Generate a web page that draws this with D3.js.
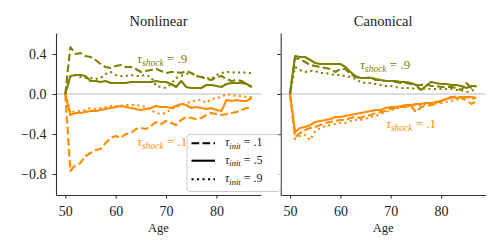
<!DOCTYPE html>
<html>
<head>
<meta charset="utf-8">
<script src="https://cdn.jsdelivr.net/npm/d3@7"></script>
<style>
  body { margin: 0; background: #fff; }
  text { font-family: "Liberation Serif", "DejaVu Serif", serif; fill: #222; }
</style>
</head>
<body>
<svg width="500" height="250"></svg>
<script>
// ages on the x axis
var ages = [50,51,52,53,54,55,56,57,58,59,60,61,62,63,64,65,66,67,68,69,
            70,71,72,73,74,75,76,77,78,79,80,81,82,83,84,85,86,87];

// Nonlinear panel, tau_shock = .9 (olive)
var nlHighInit1 = [0,0.47,0.40,0.41,0.38,0.37,0.34,0.30,0.27,0.26,0.28,0.29,0.27,0.27,0.25,0.22,0.23,0.24,0.25,0.23,
                   0.21,0.22,0.22,0.21,0.23,0.21,0.18,0.17,0.15,0.14,0.17,0.18,0.15,0.13,0.14,0.13,0.10,0.07];
var nlHighInit5 = [0,0.18,0.19,0.19,0.18,0.13,0.13,0.12,0.13,0.11,0.11,0.11,0.11,0.12,0.12,0.12,0.12,0.12,0.13,0.12,
                   0.12,0.10,0.07,0.13,0.07,0.06,0.06,0.06,0.09,0.09,0.08,0.07,0.10,0.11,0.11,0.11,0.10,0.07];
var nlHighInit9 = [0,0.17,0.19,0.17,0.16,0.16,0.15,0.16,0.20,0.22,0.19,0.18,0.18,0.19,0.18,0.18,0.19,0.17,0.08,0.07,
                   0.06,0.10,0.16,0.18,0.20,0.21,0.18,0.17,0.16,0.15,0.19,0.21,0.22,0.22,0.21,0.22,0.21,0.21];
// Nonlinear panel, tau_shock = .1 (orange)
var nlLowInit1 = [0,-0.77,-0.71,-0.69,-0.62,-0.59,-0.56,-0.55,-0.49,-0.44,-0.42,-0.44,-0.40,-0.39,-0.35,-0.34,-0.35,-0.32,-0.28,-0.30,
                  -0.27,-0.29,-0.31,-0.26,-0.23,-0.24,-0.25,-0.24,-0.21,-0.19,-0.20,-0.21,-0.20,-0.19,-0.18,-0.16,-0.14,-0.14];
var nlLowInit5 = [0,-0.21,-0.19,-0.19,-0.18,-0.17,-0.17,-0.16,-0.15,-0.14,-0.13,-0.12,-0.13,-0.14,-0.15,-0.16,-0.15,-0.14,-0.12,-0.13,
                  -0.13,-0.14,-0.12,-0.10,-0.11,-0.14,-0.13,-0.14,-0.15,-0.14,-0.16,-0.17,-0.06,-0.07,-0.06,-0.07,-0.07,-0.04];
var nlLowInit9 = [0,-0.19,-0.17,-0.17,-0.16,-0.14,-0.15,-0.14,-0.13,-0.12,-0.12,-0.12,-0.11,-0.11,-0.11,-0.12,-0.13,-0.16,-0.19,-0.20,
                  -0.19,-0.15,-0.13,-0.11,-0.09,-0.08,-0.06,-0.06,-0.09,-0.05,-0.04,-0.03,0.00,-0.01,-0.02,-0.02,-0.03,-0.03];

// Canonical panel, tau_shock = .9 (olive)
var caHighInit1 = [0,0.36,0.35,0.32,0.29,0.28,0.27,0.26,0.25,0.22,0.25,0.25,0.20,0.17,0.16,0.16,0.17,0.14,0.14,0.13,
                   0.13,0.12,0.11,0.11,0.10,0.09,0.09,0.10,0.08,0.08,0.07,0.07,0.07,0.06,0.04,0.11,0.06,0.08];
var caHighInit5 = [0,0.38,0.37,0.37,0.34,0.31,0.30,0.30,0.30,0.30,0.30,0.27,0.22,0.18,0.16,0.16,0.16,0.15,0.14,0.13,
                   0.13,0.13,0.12,0.12,0.11,0.09,0.04,0.08,0.12,0.11,0.10,0.10,0.09,0.09,0.08,0.06,0.08,0.08];
var caHighInit9 = [0,0.27,0.24,0.22,0.23,0.23,0.21,0.21,0.20,0.19,0.19,0.18,0.17,0.15,0.12,0.11,0.11,0.10,0.09,0.08,
                   0.08,0.07,0.06,0.06,0.06,0.05,0.06,0.05,0.05,0.05,0.05,0.05,0.05,0.04,0.04,0.02,0.03,0.06];
// Canonical panel, tau_shock = .1 (orange)
var caLowInit1 = [0,-0.43,-0.39,-0.36,-0.34,-0.33,-0.31,-0.29,-0.28,-0.27,-0.26,-0.26,-0.24,-0.23,-0.24,-0.22,-0.21,-0.19,-0.18,-0.17,
                  -0.15,-0.14,-0.13,-0.13,-0.12,-0.18,-0.13,-0.12,-0.11,-0.10,-0.07,-0.05,-0.04,-0.02,-0.04,-0.06,-0.10,-0.07];
var caLowInit5 = [0,-0.38,-0.34,-0.33,-0.31,-0.28,-0.27,-0.26,-0.25,-0.23,-0.23,-0.22,-0.21,-0.20,-0.19,-0.18,-0.17,-0.16,-0.16,-0.14,
                  -0.13,-0.13,-0.12,-0.11,-0.11,-0.10,-0.10,-0.09,-0.09,-0.08,-0.07,-0.05,-0.03,-0.04,-0.03,-0.03,-0.03,-0.04];
var caLowInit9 = [0,-0.45,-0.42,-0.41,-0.46,-0.37,-0.34,-0.32,-0.31,-0.30,-0.29,-0.29,-0.27,-0.26,-0.26,-0.25,-0.23,-0.22,-0.20,-0.18,
                  -0.16,-0.15,-0.13,-0.12,-0.12,-0.11,-0.11,-0.10,-0.10,-0.09,-0.09,-0.08,-0.07,-0.06,-0.04,-0.03,-0.05,-0.04];

var yTicks = [0.4, 0.0, -0.4, -0.8];
var xTicks = [50, 60, 70, 80];
var initLabels = [".1", ".5", ".9"];

var olive = "#808000", orange = "#ff8c00";
var dashes = ["7.7,3.3", null, "2.1,3.4"];

var panels = [
  { title: "Nonlinear", left: 56, right: 261, high: [nlHighInit1, nlHighInit5, nlHighInit9], low: [nlLowInit1, nlLowInit5, nlLowInit9],
    notes: [{ age: 64.3, v: 0.31, txt: ".9", color: olive }, { age: 64.3, v: -0.52, txt: ".1", color: orange }] },
  { title: "Canonical", left: 280.7, right: 485.7, high: [caHighInit1, caHighInit5, caHighInit9], low: [caLowInit1, caLowInit5, caLowInit9],
    notes: [{ age: 63.95, v: 0.25, txt: ".9", color: olive }, { age: 69.1, v: -0.34, txt: ".1", color: orange }] }
];

var svg = d3.select("svg");

var y = d3.scaleLinear().domain([-1.01, 0.61]).range([195, 33]);

panels.forEach(function(p, pi) {
  var x = d3.scaleLinear().domain([48.15, 88.85]).range([p.left, p.right]);
  var g = svg.append("g");

  // zero reference line
  g.append("line")
    .attr("x1", p.left).attr("x2", p.right)
    .attr("y1", y(0)).attr("y2", y(0))
    .attr("stroke", "#bbb").attr("stroke-width", 1);

  var line = d3.line()
    .x(function(d, i) { return x(ages[i]); })
    .y(function(d) { return y(d); });

  [[p.high, olive], [p.low, orange]].forEach(function(grp) {
    grp[0].forEach(function(vals, k) {
      g.append("path")
        .attr("d", line(vals))
        .attr("fill", "none")
        .attr("stroke", grp[1])
        .attr("stroke-width", 2.1)
        .attr("stroke-linejoin", "round")
        .attr("stroke-dasharray", dashes[k]);
    });
  });

  // annotations
  p.notes.forEach(function(n) {
    var t = g.append("text")
      .attr("x", x(n.age)).attr("y", y(n.v))
      .style("font-size", "13px");
    t.append("tspan").text("τ").style("font-style", "italic").style("fill", n.color);
    t.append("tspan").text("shock").attr("dy", 3).style("font-size", "9.5px").style("font-style", "italic").style("fill", n.color);
    t.append("tspan").text(" = " + n.txt).attr("dy", -3).style("fill", n.color);
  });

  // axes
  var yAxis = d3.axisLeft(y).tickValues(yTicks).tickSize(3.5).tickSizeOuter(0).tickPadding(6)
    .tickFormat(pi === 0 ? d3.format(".1f") : function() { return ""; });
  var ya = g.append("g").attr("transform", "translate(" + p.left + ",0)").call(yAxis);

  var xAxis = d3.axisBottom(x).tickValues(xTicks).tickSize(3.5).tickSizeOuter(0).tickPadding(7.5)
    .tickFormat(d3.format("d"));
  var xa = g.append("g").attr("transform", "translate(0,195)").call(xAxis);

  [ya, xa].forEach(function(a) {
    a.select(".domain").attr("stroke", "#333").attr("stroke-width", 1.1);
    a.selectAll(".tick line").attr("stroke", "#333").attr("stroke-width", 1.1);
    a.selectAll(".tick text").attr("fill", "#222")
      .style("font-family", "'Liberation Serif', 'DejaVu Serif', serif").style("font-size", "14px");
  });

  g.append("text")
    .attr("x", (p.left + p.right) / 2).attr("y", 26)
    .attr("text-anchor", "middle")
    .style("font-size", "14.5px")
    .text(p.title);

  g.append("text")
    .attr("x", (p.left + p.right) / 2).attr("y", 232)
    .attr("text-anchor", "middle")
    .style("font-size", "12.5px")
    .text("Age");
});

// legend, drawn last so it sits on top of both panels
var legend = svg.append("g");
legend.append("rect")
  .attr("x", 187).attr("y", 134.5).attr("width", 93.5).attr("height", 57)
  .attr("rx", 3)
  .attr("fill", "#fff").attr("fill-opacity", 0.8)
  .attr("stroke", "#ccc").attr("stroke-width", 1);

var rowY = [143.3, 160.7, 179.3];
initLabels.forEach(function(lab, k) {
  legend.append("line")
    .attr("x1", 191.5).attr("x2", 215)
    .attr("y1", rowY[k]).attr("y2", rowY[k])
    .attr("stroke", "#000").attr("stroke-width", 2.1)
    .attr("stroke-dasharray", dashes[k]);
  var t = legend.append("text")
    .attr("x", 225).attr("y", rowY[k] + 3)
    .style("font-size", "12px");
  t.append("tspan").text("τ").style("font-style", "italic");
  t.append("tspan").text("init").attr("dy", 2.5).style("font-size", "8.5px").style("font-style", "italic");
  t.append("tspan").text(" = " + lab).attr("dy", -2.5);
});
</script>
</body>
</html>
